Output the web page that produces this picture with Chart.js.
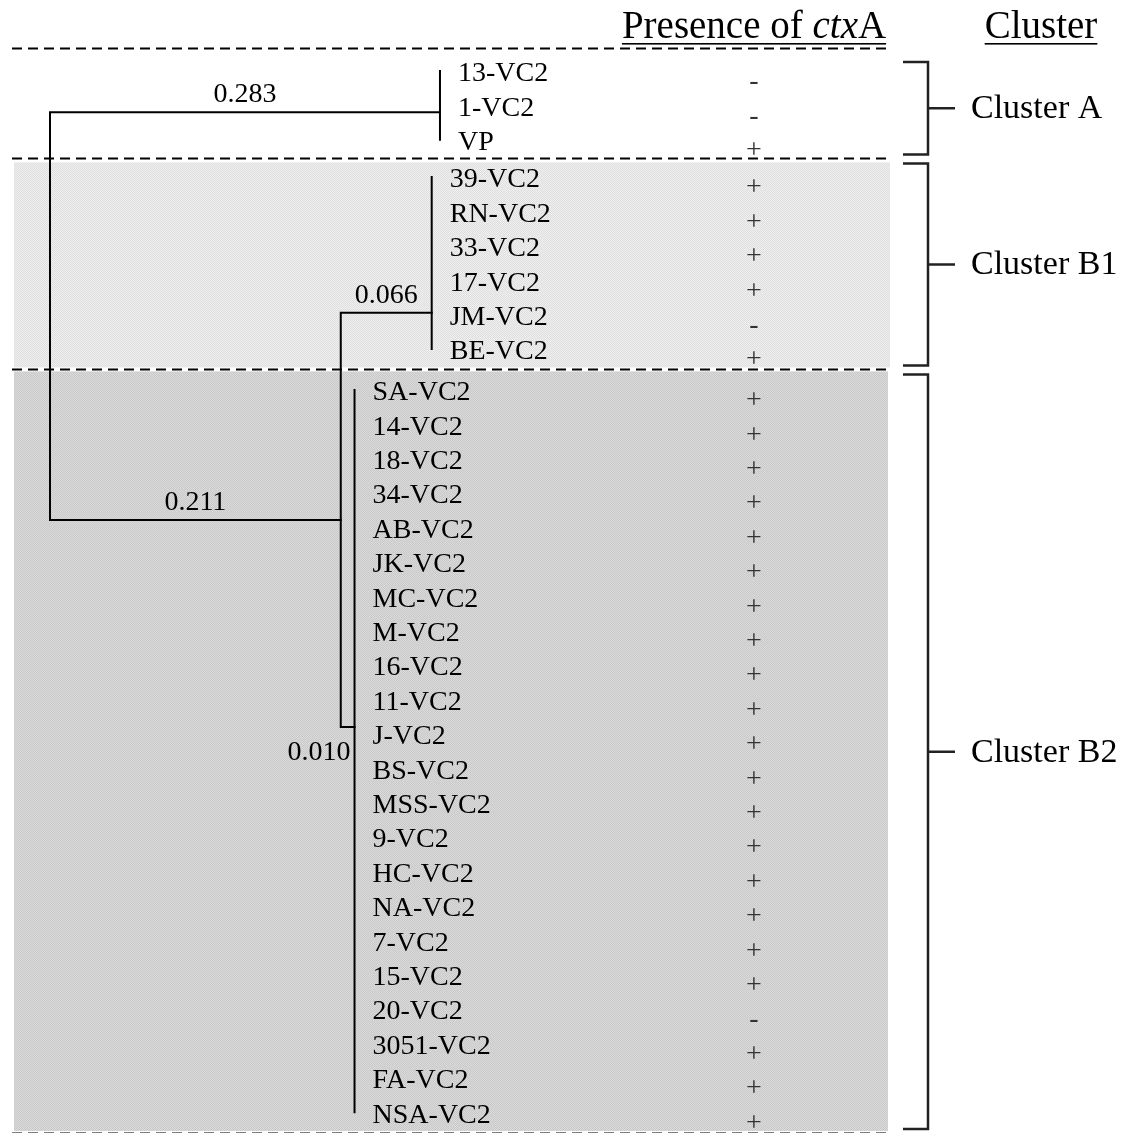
<!DOCTYPE html>
<html>
<head>
<meta charset="utf-8">
<script src="https://cdn.jsdelivr.net/npm/chart.js@4.4.1/dist/chart.umd.min.js"></script>
<style>
  html, body { margin: 0; padding: 0; background: #fff; }
  #wrap { width: 1126px; height: 1133px; }
</style>
</head>
<body>
<div id="wrap"><canvas id="treeChart" width="1126" height="1133"></canvas></div>
<script>
// leaves, top to bottom
var leafNames = ['13-VC2', '1-VC2', 'VP',
    '39-VC2', 'RN-VC2', '33-VC2', '17-VC2', 'JM-VC2', 'BE-VC2',
    'SA-VC2', '14-VC2', '18-VC2', '34-VC2', 'AB-VC2', 'JK-VC2', 'MC-VC2', 'M-VC2',
    '16-VC2', '11-VC2', 'J-VC2', 'BS-VC2', 'MSS-VC2', '9-VC2', 'HC-VC2', 'NA-VC2',
    '7-VC2', '15-VC2', '20-VC2', '3051-VC2', 'FA-VC2', 'NSA-VC2'];
var leafCluster = [0, 0, 0,
    1, 1, 1, 1, 1, 1,
    2, 2, 2, 2, 2, 2, 2, 2, 2, 2, 2, 2, 2, 2, 2, 2, 2, 2, 2, 2, 2, 2];
var ctxA = ['-', '-', '+',
    '+', '+', '+', '+', '-', '+',
    '+', '+', '+', '+', '+', '+', '+', '+', '+', '+', '+', '+', '+', '+', '+', '+',
    '+', '+', '-', '+', '+', '+'];
var clusterNames = ['Cluster A', 'Cluster B1', 'Cluster B2'];

// internal nodes of the tree
var nodeNames = ['root', 'A', 'B', 'B1', 'B2'];
var nodeParent = [-1, 0, 0, 2, 2];
var branchLength = [0, 0.283, 0.211, 0.066, 0.010];
var branchLabels = ['', '0.283', '0.211', '0.066', '0.010'];
var nodeRow = [null, 1.2, 13.05, 7.03, 19.07];   // row where the branch comes in
var nodeGroup = [-1, 0, -1, 1, 2];               // leaf cluster hanging off the node

// layout (pixels)
var W = 1126, H = 1133;
var rootPx = 50, pxPerUnit = 1378;
var firstRowPx = 71, rowPx = 34.4;
var groupGap = [0, 0.08, 0.27];
var signX = 754, panelLeft = 14, panelRight = 890;
var bracketL = 903, bracketR = 928, tickR = 955, clusterTextX = 971;
var serif = '"Liberation Serif", "Times New Roman", serif';

// depth of each node
var depth = branchLength.map(function () { return 0; });
for (var i = 1; i < nodeNames.length; i++) depth[i] = depth[nodeParent[i]] + branchLength[i];

var leafRow = leafNames.map(function (n, i) {
    return i + groupGap[leafCluster[i]];
});

function groupRows(g) {
    var r = leafRow.filter(function (v, i) { return leafCluster[i] === g; });
    return [Math.min.apply(null, r), Math.max.apply(null, r)];
}

// build line datasets: elbows for binary nodes, a bar for each leaf group
var lineSets = [];
for (var p = 0; p < nodeNames.length; p++) {
    var kids = [];
    for (var c = 0; c < nodeNames.length; c++) if (nodeParent[c] === p) kids.push(c);
    if (kids.length === 2) {
        var a = kids[0], b = kids[1];
        lineSets.push([
            { x: depth[a], y: nodeRow[a] }, { x: depth[p], y: nodeRow[a] },
            { x: depth[p], y: nodeRow[b] }, { x: depth[b], y: nodeRow[b] }
        ]);
    }
    if (nodeGroup[p] >= 0) {
        var gr = groupRows(nodeGroup[p]);
        lineSets.push([{ x: depth[p], y: gr[0] }, { x: depth[p], y: gr[1] }]);
    }
}

var datasets = lineSets.map(function (d) {
    return {
        data: d, showLine: true, pointRadius: 0, borderColor: '#000',
        borderWidth: 2, tension: 0, borderCapStyle: 'square', borderJoinStyle: 'miter'
    };
});

function makePattern(ctx, c1, c2) {
    var pc = document.createElement('canvas');
    pc.width = 2; pc.height = 2;
    var g = pc.getContext('2d');
    g.fillStyle = c1; g.fillRect(0, 0, 2, 2);
    g.fillStyle = c2; g.fillRect(0, 0, 1, 1); g.fillRect(1, 1, 1, 1);
    return ctx.createPattern(pc, 'repeat');
}

var backgroundPlugin = {
    id: 'panels',
    beforeDatasetsDraw: function (chart) {
        var ctx = chart.ctx, ys = chart.scales.y;
        var rA = groupRows(0), rB1 = groupRows(1), rB2 = groupRows(2);
        var sep = [
            ys.getPixelForValue(rA[0] - 0.67),
            ys.getPixelForValue((rA[1] + rB1[0]) / 2),
            ys.getPixelForValue((rB1[1] + rB2[0]) / 2),
            ys.getPixelForValue(rB2[1] + 0.6)
        ];
        chart.$sep = sep;
        ctx.save();
        ctx.fillStyle = makePattern(ctx, '#f0f0f0', '#dedede');
        ctx.fillRect(panelLeft, sep[1] + 4, panelRight - panelLeft, sep[2] - sep[1] - 6);
        ctx.fillStyle = makePattern(ctx, '#dadada', '#c9c9c9');
        ctx.fillRect(panelLeft, sep[2] + 2, panelRight - 2 - panelLeft, sep[3] - sep[2] - 4);
        ctx.strokeStyle = '#000';
        ctx.lineWidth = 2;
        ctx.setLineDash([10, 6]);
        sep.forEach(function (y) {
            ctx.beginPath();
            ctx.moveTo(12, Math.round(y) + 0.5);
            ctx.lineTo(panelRight, Math.round(y) + 0.5);
            ctx.stroke();
        });
        ctx.restore();
    }
};

var textPlugin = {
    id: 'texts',
    afterDatasetsDraw: function (chart) {
        var ctx = chart.ctx, xs = chart.scales.x, ys = chart.scales.y;
        var sep = chart.$sep;
        ctx.save();

        // leaf labels and ctxA signs
        var groupX = [];
        nodeGroup.forEach(function (g, n) { if (g >= 0) groupX[g] = xs.getPixelForValue(depth[n]); });
        ctx.textBaseline = 'middle';
        leafNames.forEach(function (name, i) {
            var y = ys.getPixelForValue(leafRow[i]);
            ctx.font = '28px ' + serif;
            ctx.textAlign = 'left';
            ctx.fillStyle = '#000';
            ctx.fillText(name, groupX[leafCluster[i]] + 18, y + 3);
            ctx.textAlign = 'center';
            ctx.fillStyle = '#333';
            ctx.font = '28px ' + serif;
            ctx.fillText(ctxA[i], signX, y + 11);
        });

        // branch lengths
        ctx.fillStyle = '#000';
        ctx.font = '28px ' + serif;
        ctx.textBaseline = 'alphabetic';
        for (var n = 1; n < nodeNames.length; n++) {
            var x0 = xs.getPixelForValue(depth[nodeParent[n]]);
            var x1 = xs.getPixelForValue(depth[n]);
            var y = ys.getPixelForValue(nodeRow[n]);
            if (x1 - x0 > 40) {
                ctx.textAlign = 'center';
                ctx.fillText(branchLabels[n], (x0 + x1) / 2, y - 10);
            } else {
                ctx.textAlign = 'right';
                ctx.fillText(branchLabels[n], x1 - 4, y + 33);
            }
        }

        // headers
        var hy = 38, hf = '39px ';
        ctx.textAlign = 'left';
        var parts = [['Presence of ', ''], ['ctx', 'italic '], ['A', '']];
        var total = 0;
        parts.forEach(function (p) { ctx.font = p[1] + hf + serif; p.push(ctx.measureText(p[0]).width); total += p[2]; });
        var hx = signX - total / 2;
        var startX = hx;
        parts.forEach(function (p) { ctx.font = p[1] + hf + serif; ctx.fillText(p[0], hx, hy); hx += p[2]; });
        ctx.fillRect(startX, 43, total, 1.6);
        ctx.font = hf + serif;
        var cw = ctx.measureText('Cluster').width;
        ctx.fillText('Cluster', 1041 - cw / 2, hy);
        ctx.fillRect(1041 - cw / 2, 43, cw, 1.6);

        // brackets and cluster names
        ctx.strokeStyle = '#222';
        ctx.lineWidth = 2.5;
        ctx.font = '34px ' + serif;
        ctx.textBaseline = 'middle';
        clusterNames.forEach(function (name, g) {
            var gr = groupRows(g);
            var top = g === 0 ? ys.getPixelForValue(gr[0]) - 9 : sep[g] + 5;
            var bot = sep[g + 1] - 4;
            var mid = (top + bot) / 2;
            ctx.beginPath();
            ctx.moveTo(bracketL, top); ctx.lineTo(bracketR, top);
            ctx.lineTo(bracketR, bot); ctx.lineTo(bracketL, bot);
            ctx.moveTo(bracketR, mid); ctx.lineTo(tickR, mid);
            ctx.stroke();
            ctx.fillStyle = '#000';
            ctx.fillText(name, clusterTextX, mid + 1);
        });
        ctx.restore();
    }
};

var ctx = document.getElementById('treeChart').getContext('2d');
var treeChart = new Chart(ctx, {
    type: 'scatter',
    data: { datasets: datasets },
    options: {
        responsive: false,
        animation: false,
        layout: { padding: 0 },
        scales: {
            x: { type: 'linear', display: false, min: -rootPx / pxPerUnit, max: (W - rootPx) / pxPerUnit },
            y: { type: 'linear', display: false, reverse: true,
                 min: -firstRowPx / rowPx, max: (H - firstRowPx) / rowPx }
        },
        plugins: { legend: { display: false }, tooltip: { enabled: false } },
        events: []
    },
    plugins: [backgroundPlugin, textPlugin]
});
</script>
</body>
</html>
